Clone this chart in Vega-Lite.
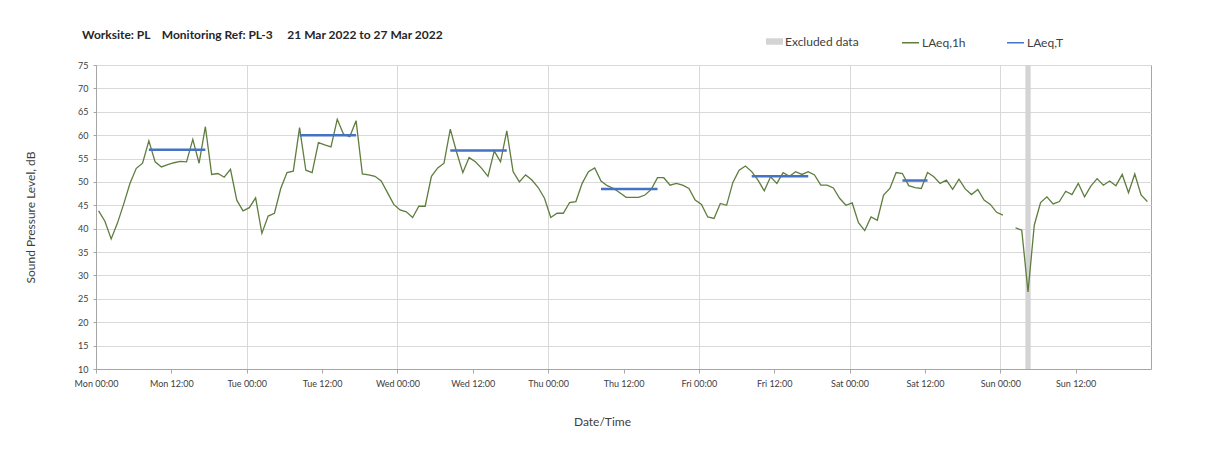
{
  "$schema": "https://vega.github.io/schema/vega-lite/v6.json",
  "width": 1055,
  "height": 304,
  "autosize": "none",
  "padding": {"left": 96, "top": 65, "right": 56, "bottom": 86},
  "background": "white",
  "config": {
    "font": "Lato",
    "view": {"stroke": "#a6a6a6", "strokeWidth": 1}
  },
  "title": {
    "text": "Worksite: PL\u00a0\u00a0\u00a0\u00a0Monitoring Ref: PL-3\u00a0\u00a0\u00a0\u00a0\u00a021 Mar 2022 to 27 Mar 2022",
    "anchor": "start",
    "frame": "group",
    "dx": -14,
    "dy": 34,
    "offset": 25,
    "fontSize": 12,
    "fontWeight": "bold",
    "color": "#262626"
  },
  "datasets": {
    "excl": [{"t": "2022-03-27T04:00Z", "t2": "2022-03-27T04:50Z"}],
    "laeqT": [
      {"t": "2022-03-21T08:25Z", "t2": "2022-03-21T17:25Z", "v": 56.9},
      {"t": "2022-03-22T08:25Z", "t2": "2022-03-22T17:25Z", "v": 60.0},
      {"t": "2022-03-23T08:25Z", "t2": "2022-03-23T17:25Z", "v": 56.7},
      {"t": "2022-03-24T08:25Z", "t2": "2022-03-24T17:25Z", "v": 48.5},
      {"t": "2022-03-25T08:25Z", "t2": "2022-03-25T17:25Z", "v": 51.2},
      {"t": "2022-03-26T08:25Z", "t2": "2022-03-26T12:25Z", "v": 50.3}
    ],
    "laeq1h": [
      {"t": "2022-03-21T00:25Z", "v": 43.8}, {"t": "2022-03-21T01:25Z", "v": 41.6}, {"t": "2022-03-21T02:25Z", "v": 37.8}, {"t": "2022-03-21T03:25Z", "v": 41.2},
      {"t": "2022-03-21T04:25Z", "v": 45.3}, {"t": "2022-03-21T05:25Z", "v": 49.7}, {"t": "2022-03-21T06:25Z", "v": 52.9}, {"t": "2022-03-21T07:25Z", "v": 54.0},
      {"t": "2022-03-21T08:25Z", "v": 58.8}, {"t": "2022-03-21T09:25Z", "v": 54.3}, {"t": "2022-03-21T10:25Z", "v": 53.2}, {"t": "2022-03-21T11:25Z", "v": 53.7},
      {"t": "2022-03-21T12:25Z", "v": 54.1}, {"t": "2022-03-21T13:25Z", "v": 54.4}, {"t": "2022-03-21T14:25Z", "v": 54.3}, {"t": "2022-03-21T15:25Z", "v": 59.1},
      {"t": "2022-03-21T16:25Z", "v": 54.0}, {"t": "2022-03-21T17:25Z", "v": 61.8}, {"t": "2022-03-21T18:25Z", "v": 51.6}, {"t": "2022-03-21T19:25Z", "v": 51.8},
      {"t": "2022-03-21T20:25Z", "v": 51.0}, {"t": "2022-03-21T21:25Z", "v": 52.7}, {"t": "2022-03-21T22:25Z", "v": 46.1}, {"t": "2022-03-21T23:25Z", "v": 43.8},
      {"t": "2022-03-22T00:25Z", "v": 44.5}, {"t": "2022-03-22T01:25Z", "v": 46.6}, {"t": "2022-03-22T02:25Z", "v": 39.0}, {"t": "2022-03-22T03:25Z", "v": 42.7},
      {"t": "2022-03-22T04:25Z", "v": 43.3}, {"t": "2022-03-22T05:25Z", "v": 48.6}, {"t": "2022-03-22T06:25Z", "v": 52.0}, {"t": "2022-03-22T07:25Z", "v": 52.3},
      {"t": "2022-03-22T08:25Z", "v": 61.6}, {"t": "2022-03-22T09:25Z", "v": 52.5}, {"t": "2022-03-22T10:25Z", "v": 52.0}, {"t": "2022-03-22T11:25Z", "v": 58.4},
      {"t": "2022-03-22T12:25Z", "v": 57.9}, {"t": "2022-03-22T13:25Z", "v": 57.5}, {"t": "2022-03-22T14:25Z", "v": 63.4}, {"t": "2022-03-22T15:25Z", "v": 60.2},
      {"t": "2022-03-22T16:25Z", "v": 59.7}, {"t": "2022-03-22T17:25Z", "v": 63.1}, {"t": "2022-03-22T18:25Z", "v": 51.7}, {"t": "2022-03-22T19:25Z", "v": 51.5},
      {"t": "2022-03-22T20:25Z", "v": 51.2}, {"t": "2022-03-22T21:25Z", "v": 50.2}, {"t": "2022-03-22T22:25Z", "v": 47.7}, {"t": "2022-03-22T23:25Z", "v": 45.2},
      {"t": "2022-03-23T00:25Z", "v": 44.0}, {"t": "2022-03-23T01:25Z", "v": 43.6}, {"t": "2022-03-23T02:25Z", "v": 42.4}, {"t": "2022-03-23T03:25Z", "v": 44.8},
      {"t": "2022-03-23T04:25Z", "v": 44.8}, {"t": "2022-03-23T05:25Z", "v": 51.2}, {"t": "2022-03-23T06:25Z", "v": 53.0}, {"t": "2022-03-23T07:25Z", "v": 54.0},
      {"t": "2022-03-23T08:25Z", "v": 61.3}, {"t": "2022-03-23T09:25Z", "v": 56.4}, {"t": "2022-03-23T10:25Z", "v": 52.0}, {"t": "2022-03-23T11:25Z", "v": 55.2},
      {"t": "2022-03-23T12:25Z", "v": 54.3}, {"t": "2022-03-23T13:25Z", "v": 52.9}, {"t": "2022-03-23T14:25Z", "v": 51.2}, {"t": "2022-03-23T15:25Z", "v": 56.6},
      {"t": "2022-03-23T16:25Z", "v": 54.3}, {"t": "2022-03-23T17:25Z", "v": 60.9}, {"t": "2022-03-23T18:25Z", "v": 52.2}, {"t": "2022-03-23T19:25Z", "v": 50.0},
      {"t": "2022-03-23T20:25Z", "v": 51.5}, {"t": "2022-03-23T21:25Z", "v": 50.4}, {"t": "2022-03-23T22:25Z", "v": 48.8}, {"t": "2022-03-23T23:25Z", "v": 46.5},
      {"t": "2022-03-24T00:25Z", "v": 42.4}, {"t": "2022-03-24T01:25Z", "v": 43.3}, {"t": "2022-03-24T02:25Z", "v": 43.3}, {"t": "2022-03-24T03:25Z", "v": 45.6},
      {"t": "2022-03-24T04:25Z", "v": 45.8}, {"t": "2022-03-24T05:25Z", "v": 49.7}, {"t": "2022-03-24T06:25Z", "v": 52.2}, {"t": "2022-03-24T07:25Z", "v": 53.0},
      {"t": "2022-03-24T08:25Z", "v": 50.2}, {"t": "2022-03-24T09:25Z", "v": 49.2}, {"t": "2022-03-24T10:25Z", "v": 48.6}, {"t": "2022-03-24T11:25Z", "v": 47.7},
      {"t": "2022-03-24T12:25Z", "v": 46.7}, {"t": "2022-03-24T13:25Z", "v": 46.7}, {"t": "2022-03-24T14:25Z", "v": 46.7}, {"t": "2022-03-24T15:25Z", "v": 47.2},
      {"t": "2022-03-24T16:25Z", "v": 48.4}, {"t": "2022-03-24T17:25Z", "v": 50.9}, {"t": "2022-03-24T18:25Z", "v": 50.9}, {"t": "2022-03-24T19:25Z", "v": 49.3},
      {"t": "2022-03-24T20:25Z", "v": 49.7}, {"t": "2022-03-24T21:25Z", "v": 49.3}, {"t": "2022-03-24T22:25Z", "v": 48.6}, {"t": "2022-03-24T23:25Z", "v": 46.1},
      {"t": "2022-03-25T00:25Z", "v": 45.2}, {"t": "2022-03-25T01:25Z", "v": 42.5}, {"t": "2022-03-25T02:25Z", "v": 42.2}, {"t": "2022-03-25T03:25Z", "v": 45.4},
      {"t": "2022-03-25T04:25Z", "v": 45.0}, {"t": "2022-03-25T05:25Z", "v": 49.9}, {"t": "2022-03-25T06:25Z", "v": 52.5}, {"t": "2022-03-25T07:25Z", "v": 53.4},
      {"t": "2022-03-25T08:25Z", "v": 52.2}, {"t": "2022-03-25T09:25Z", "v": 50.4}, {"t": "2022-03-25T10:25Z", "v": 48.1}, {"t": "2022-03-25T11:25Z", "v": 51.1},
      {"t": "2022-03-25T12:25Z", "v": 49.7}, {"t": "2022-03-25T13:25Z", "v": 52.0}, {"t": "2022-03-25T14:25Z", "v": 51.2}, {"t": "2022-03-25T15:25Z", "v": 52.2},
      {"t": "2022-03-25T16:25Z", "v": 51.6}, {"t": "2022-03-25T17:25Z", "v": 52.2}, {"t": "2022-03-25T18:25Z", "v": 51.5}, {"t": "2022-03-25T19:25Z", "v": 49.3},
      {"t": "2022-03-25T20:25Z", "v": 49.3}, {"t": "2022-03-25T21:25Z", "v": 48.7}, {"t": "2022-03-25T22:25Z", "v": 46.5}, {"t": "2022-03-25T23:25Z", "v": 45.0},
      {"t": "2022-03-26T00:25Z", "v": 45.5}, {"t": "2022-03-26T01:25Z", "v": 41.3}, {"t": "2022-03-26T02:25Z", "v": 39.6}, {"t": "2022-03-26T03:25Z", "v": 42.5},
      {"t": "2022-03-26T04:25Z", "v": 41.8}, {"t": "2022-03-26T05:25Z", "v": 47.2}, {"t": "2022-03-26T06:25Z", "v": 48.6}, {"t": "2022-03-26T07:25Z", "v": 52.0},
      {"t": "2022-03-26T08:25Z", "v": 51.8}, {"t": "2022-03-26T09:25Z", "v": 49.2}, {"t": "2022-03-26T10:25Z", "v": 48.8}, {"t": "2022-03-26T11:25Z", "v": 48.6},
      {"t": "2022-03-26T12:25Z", "v": 52.0}, {"t": "2022-03-26T13:25Z", "v": 51.1}, {"t": "2022-03-26T14:25Z", "v": 49.7}, {"t": "2022-03-26T15:25Z", "v": 50.4},
      {"t": "2022-03-26T16:25Z", "v": 48.4}, {"t": "2022-03-26T17:25Z", "v": 50.6}, {"t": "2022-03-26T18:25Z", "v": 48.5}, {"t": "2022-03-26T19:25Z", "v": 47.3},
      {"t": "2022-03-26T20:25Z", "v": 48.4}, {"t": "2022-03-26T21:25Z", "v": 46.1}, {"t": "2022-03-26T22:25Z", "v": 45.2}, {"t": "2022-03-26T23:25Z", "v": 43.5},
      {"t": "2022-03-27T00:25Z", "v": 42.9}, {"t": "2022-03-27T01:25Z", "v": null}, {"t": "2022-03-27T02:25Z", "v": 40.2}, {"t": "2022-03-27T03:25Z", "v": 39.7},
      {"t": "2022-03-27T04:25Z", "v": 26.5}, {"t": "2022-03-27T05:25Z", "v": 40.8}, {"t": "2022-03-27T06:25Z", "v": 45.6}, {"t": "2022-03-27T07:25Z", "v": 46.8},
      {"t": "2022-03-27T08:25Z", "v": 45.3}, {"t": "2022-03-27T09:25Z", "v": 45.8}, {"t": "2022-03-27T10:25Z", "v": 48.0}, {"t": "2022-03-27T11:25Z", "v": 47.3},
      {"t": "2022-03-27T12:25Z", "v": 49.7}, {"t": "2022-03-27T13:25Z", "v": 46.8}, {"t": "2022-03-27T14:25Z", "v": 49.1}, {"t": "2022-03-27T15:25Z", "v": 50.7},
      {"t": "2022-03-27T16:25Z", "v": 49.3}, {"t": "2022-03-27T17:25Z", "v": 50.2}, {"t": "2022-03-27T18:25Z", "v": 49.2}, {"t": "2022-03-27T19:25Z", "v": 51.6},
      {"t": "2022-03-27T20:25Z", "v": 47.7}, {"t": "2022-03-27T21:25Z", "v": 51.7}, {"t": "2022-03-27T22:25Z", "v": 47.2}, {"t": "2022-03-27T23:25Z", "v": 45.8}
    ]
  },
  "encoding": {
    "x": {
      "field": "t", "type": "temporal",
      "scale": {"type": "utc", "domain": [{"year": 2022, "month": 3, "date": 21, "utc": true}, {"year": 2022, "month": 3, "date": 28, "utc": true}]},
      "axis": {
        "values": [
          {"year": 2022, "month": 3, "date": 21, "hours": 0, "utc": true}, {"year": 2022, "month": 3, "date": 21, "hours": 12, "utc": true},
          {"year": 2022, "month": 3, "date": 22, "hours": 0, "utc": true}, {"year": 2022, "month": 3, "date": 22, "hours": 12, "utc": true},
          {"year": 2022, "month": 3, "date": 23, "hours": 0, "utc": true}, {"year": 2022, "month": 3, "date": 23, "hours": 12, "utc": true},
          {"year": 2022, "month": 3, "date": 24, "hours": 0, "utc": true}, {"year": 2022, "month": 3, "date": 24, "hours": 12, "utc": true},
          {"year": 2022, "month": 3, "date": 25, "hours": 0, "utc": true}, {"year": 2022, "month": 3, "date": 25, "hours": 12, "utc": true},
          {"year": 2022, "month": 3, "date": 26, "hours": 0, "utc": true}, {"year": 2022, "month": 3, "date": 26, "hours": 12, "utc": true},
          {"year": 2022, "month": 3, "date": 27, "hours": 0, "utc": true}, {"year": 2022, "month": 3, "date": 27, "hours": 12, "utc": true}
        ],
        "labelExpr": "utcFormat(datum.value, '%a %H:%M')",
        "labelFontSize": 9,
        "labelColor": "#404040",
        "labelPadding": 6,
        "labelFlush": false,
        "labelOverlap": false,
        "tickSize": 4,
        "tickColor": "#a6a6a6",
        "domainColor": "#a6a6a6",
        "gridColor": "#d9d9d9",
        "gridOpacity": {"condition": {"test": "utchours(datum.value) == 0", "value": 1}, "value": 0},
        "title": "Date/Time",
        "titleFontSize": 12,
        "titleFontWeight": "normal",
        "titleColor": "#404040",
        "titleX": 506,
        "titleY": 52,
        "titleBaseline": "middle"
      }
    }
  },
  "layer": [
    {
      "data": {"name": "excl"},
      "mark": {"type": "rect"},
      "encoding": {
        "x2": {"field": "t2"},
        "fill": {
          "datum": "Excluded data",
          "scale": {"domain": ["Excluded data"], "range": ["#d4d4d4"]},
          "legend": {
            "orient": "none", "legendX": 670, "legendY": -32, "direction": "horizontal", "title": null,
            "symbolType": "M-1,-0.38H1V0.38H-1Z", "symbolSize": 289, "symbolStrokeWidth": 0,
            "labelFontSize": 12, "labelColor": "#404040", "labelOffset": 2
          }
        }
      }
    },
    {
      "data": {"name": "laeq1h"},
      "mark": {"type": "line", "strokeWidth": 1.3, "invalid": "break-paths-show-domains"},
      "encoding": {
        "y": {
          "field": "v", "type": "quantitative",
          "scale": {"domain": [10, 75], "nice": false, "zero": false},
          "axis": {
            "values": [10, 15, 20, 25, 30, 35, 40, 45, 50, 55, 60, 65, 70, 75],
            "labelOverlap": false,
            "labelFontSize": 9,
            "labelColor": "#404040",
            "labelPadding": 5,
            "tickSize": 3,
            "tickColor": "#a6a6a6",
            "domainColor": "#a6a6a6",
            "gridColor": "#d9d9d9",
            "title": "Sound Pressure Level, dB",
            "titleFontSize": 12,
            "titleFontWeight": "normal",
            "titleColor": "#404040",
            "titlePadding": 40
          }
        },
        "stroke": {
          "datum": "LAeq,1h",
          "scale": {"domain": ["LAeq,1h", "LAeq,T"], "range": ["#5e7d3e", "#4472c4"]},
          "legend": {
            "orient": "none", "legendX": 805, "legendY": -32, "direction": "horizontal", "title": null,
            "symbolType": "stroke", "symbolSize": 289, "symbolStrokeWidth": 1.5,
            "labelFontSize": 12, "labelColor": "#404040", "labelOffset": 2, "columnPadding": 38
          }
        }
      }
    },
    {
      "data": {"name": "laeqT"},
      "mark": {"type": "rule", "strokeWidth": 2.5},
      "encoding": {
        "x2": {"field": "t2"},
        "y": {
          "field": "v", "type": "quantitative",
          "scale": {"domain": [10, 75], "nice": false, "zero": false},
          "axis": {
            "values": [10, 15, 20, 25, 30, 35, 40, 45, 50, 55, 60, 65, 70, 75],
            "labelOverlap": false,
            "labelFontSize": 9,
            "labelColor": "#404040",
            "labelPadding": 5,
            "tickSize": 3,
            "tickColor": "#a6a6a6",
            "domainColor": "#a6a6a6",
            "gridColor": "#d9d9d9",
            "title": "Sound Pressure Level, dB",
            "titleFontSize": 12,
            "titleFontWeight": "normal",
            "titleColor": "#404040",
            "titlePadding": 40
          }
        },
        "stroke": {"datum": "LAeq,T"}
      }
    }
  ]
}
